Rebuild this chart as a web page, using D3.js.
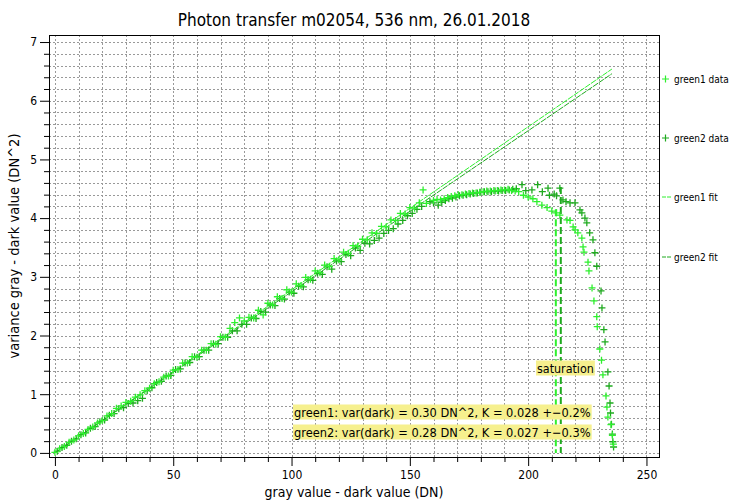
<!DOCTYPE html>
<html>
<head>
<meta charset="utf-8">
<script src="https://cdn.jsdelivr.net/npm/d3@7"></script>
<style>
  body { margin: 0; background: #fff; }
  text { font-family: "DejaVu Sans Condensed", "Liberation Sans", sans-serif; }
</style>
</head>
<body>
<div id="chart"></div>
<script>
// green1 data points (gray value - dark value, variance)
var green1X = [0, 2, 4, 6, 8, 10, 12, 14, 16, 18, 20, 22, 24, 26, 28, 30, 32, 34, 36, 38,
  40, 42, 44, 46, 48, 50, 52, 54, 56, 58, 60, 62, 64, 66, 68, 70, 72, 74, 76, 78,
  80, 82, 84, 86, 88, 90, 92, 94, 96, 98, 100, 102, 104, 106, 108, 110, 112, 114, 116, 118,
  120, 122, 124, 126, 128, 130, 132, 134, 136, 138, 140, 142, 144, 146, 148, 150, 152, 154,
  155.6, 157, 160, 161.5, 163, 164.5, 166, 167.5, 169, 170.5, 172, 173.5, 175, 176.5, 178, 179.5,
  181, 182.5, 184, 185.5, 187, 188.5, 190, 191.5, 193, 194.5, 196, 198, 200, 202, 203.7, 205.8,
  208, 210, 212, 213.4, 216.4, 217.7, 219, 219.8, 221, 222.7, 223.2, 223.6, 225.3, 225.7, 227, 227.8,
  229, 229.2, 230.3, 231, 231.6, 232.9, 233.3, 233.7, 235, 235.6, 236];
var green1Y = [0.01, 0.07, 0.11, 0.18, 0.22, 0.29, 0.33, 0.40, 0.44, 0.51, 0.55, 0.63, 0.67, 0.76, 0.80, 0.86, 0.88, 0.95, 0.99, 1.06,
  1.10, 1.18, 1.21, 1.29, 1.31, 1.41, 1.42, 1.53, 1.53, 1.64, 1.63, 1.75, 1.75, 1.86, 1.85, 1.98, 1.97, 2.12, 2.22, 2.30,
  2.25, 2.31, 2.30, 2.43, 2.35, 2.55, 2.52, 2.66, 2.63, 2.78, 2.74, 2.88, 2.85, 2.99, 2.96, 3.10, 3.07, 3.20, 3.18, 3.31,
  3.29, 3.42, 3.40, 3.53, 3.52, 3.64, 3.63, 3.75, 3.74, 3.86, 3.85, 3.97, 3.96, 4.08, 4.07, 4.18, 4.17, 4.26,
  4.48, 4.25, 4.30, 4.32, 4.31, 4.33, 4.35, 4.37, 4.38, 4.40, 4.40, 4.41, 4.42, 4.43, 4.43, 4.44,
  4.45, 4.46, 4.46, 4.47, 4.47, 4.48, 4.48, 4.49, 4.47, 4.46, 4.45, 4.39, 4.36, 4.33, 4.28, 4.22,
  4.18, 4.12, 4.09, 4.05, 3.97, 3.96, 3.85, 3.80, 3.75, 3.66, 3.51, 3.42, 3.25, 3.10, 2.81, 2.59,
  2.32, 2.15, 1.77, 1.58, 1.33, 0.97, 0.78, 0.61, 0.48, 0.30, 0.15];

// green2 data points
var green2X = [1, 3, 5, 7, 9, 11, 13, 15, 17, 19, 21, 23, 25, 27, 29, 31, 33, 35, 37, 39,
  41, 43, 45, 47, 49, 51, 53, 55, 57, 59, 61, 63, 65, 67, 69, 71, 73, 75, 77, 79,
  81, 83, 85, 87, 89, 91, 93, 95, 97, 99, 101, 103, 105, 107, 109, 111, 113, 115, 117, 119,
  121, 123, 125, 127, 129, 131, 133, 135, 137, 139, 141, 143, 145, 147, 149, 151, 153, 155,
  158.5, 160, 162, 163.5, 165, 166.5, 168, 169.5, 171, 172.5, 174, 175.5, 177, 178.5, 180, 181.5,
  183, 184.5, 186, 187.5, 189, 190.5, 192, 193.5, 195, 197.4, 199, 201.6, 204, 206, 208.4, 209,
  211, 212, 213.4, 214.7, 216, 217.7, 219.8, 221.9, 222.7, 224, 224.8, 226, 227.4, 228.2, 229, 230.8,
  231.2, 232, 232.5, 233.7, 234.2, 234.6, 234.8, 235.2, 235.6, 235.8, 236.1];
var green2Y = [0.03, 0.09, 0.13, 0.20, 0.24, 0.31, 0.34, 0.42, 0.45, 0.53, 0.56, 0.64, 0.67, 0.75, 0.77, 0.84, 0.85, 0.89, 0.93, 1.06,
  1.11, 1.20, 1.22, 1.31, 1.32, 1.42, 1.43, 1.53, 1.54, 1.64, 1.64, 1.75, 1.75, 1.86, 1.86, 1.97, 1.97, 2.08, 2.08, 2.19,
  2.19, 2.30, 2.29, 2.41, 2.40, 2.52, 2.51, 2.63, 2.62, 2.74, 2.72, 2.84, 2.83, 2.95, 2.94, 3.06, 3.04, 3.17, 3.13, 3.27,
  3.26, 3.38, 3.36, 3.49, 3.45, 3.57, 3.56, 3.62, 3.66, 3.74, 3.79, 3.82, 3.90, 3.96, 4.04, 4.08, 4.15, 4.20,
  4.28, 4.26, 4.22, 4.27, 4.30, 4.33, 4.34, 4.36, 4.38, 4.39, 4.40, 4.41, 4.42, 4.43, 4.44, 4.45,
  4.45, 4.45, 4.46, 4.46, 4.47, 4.47, 4.48, 4.49, 4.50, 4.57, 4.47, 4.48, 4.57, 4.45, 4.51, 4.39,
  4.41, 4.38, 4.51, 4.31, 4.28, 4.26, 4.26, 4.14, 4.09, 4.00, 3.92, 3.75, 3.63, 3.41, 3.18, 2.76,
  2.47, 2.10, 1.89, 1.38, 1.14, 0.85, 0.68, 0.49, 0.32, 0.19, 0.10];

// fit lines: [x start, x end] and [y start, y end]
var fitX = [0, 235.4];
var green1FitY = [0, 6.54];
var green2FitY = [0, 6.46];

// saturation markers: x position and top value
var satX = [211.7, 213.8];
var satTop = [4.15, 4.53];

var xTicks = [0, 50, 100, 150, 200, 250];
var yTicks = [0, 1, 2, 3, 4, 5, 6, 7];

var seriesNames = ["green1 data", "green2 data", "green1 fit", "green2 fit"];
var annotations = [
  "green1: var(dark) = 0.30 DN^2, K = 0.028 +\u22120.2%",
  "green2: var(dark) = 0.28 DN^2, K = 0.027 +\u22120.3%"
];

var width = 733, height = 502;
var margin = {left: 49, top: 35, right: 74, bottom: 45};
var c1 = "#2ef02e", c2 = "#1faa1f";

var svg = d3.select("#chart").append("svg")
    .attr("width", width)
    .attr("height", height);

var xScale = d3.scaleLinear()
    .domain([-2.5, 255.3])
    .range([margin.left, width - margin.right]);
var yScale = d3.scaleLinear()
    .domain([-0.07, 7.12])
    .range([height - margin.bottom, margin.top]);

var pl = margin.left, pr = width - margin.right;
var pt = margin.top, pb = height - margin.bottom;

// grid, dotted grey: x every 10, y every 0.2
var gridX = d3.range(0, 251, 10);
var gridY = d3.range(0, 36).map(function(i) { return i * 0.2; });
var grid = svg.append("g").attr("class", "grid");
grid.selectAll("line.gx").data(gridX).enter().append("line")
    .attr("x1", function(d) { return Math.round(xScale(d)) + 0.5; })
    .attr("x2", function(d) { return Math.round(xScale(d)) + 0.5; })
    .attr("y1", pt).attr("y2", pb)
    .attr("stroke", "#999").attr("stroke-dasharray", "2,2");
grid.selectAll("line.gy").data(gridY).enter().append("line")
    .attr("y1", function(d) { return Math.round(yScale(d)) + 0.5; })
    .attr("y2", function(d) { return Math.round(yScale(d)) + 0.5; })
    .attr("x1", pl).attr("x2", pr)
    .attr("stroke", "#999").attr("stroke-dasharray", "2,2");

// axes
var xAxis = d3.axisBottom(xScale).tickValues(xTicks).tickSize(9).tickPadding(4).tickFormat(d3.format("d"));
var xMinor = d3.axisBottom(xScale).tickValues(gridX.filter(function(d) { return d % 50 !== 0; })).tickSize(5).tickFormat("");
var yAxis = d3.axisLeft(yScale).tickValues(yTicks).tickSize(9).tickPadding(3).tickFormat(d3.format("d"));
var yMinor = d3.axisLeft(yScale).tickValues(gridY.filter(function(d, i) { return i % 5 !== 0; })).tickSize(5).tickFormat("");

[[xAxis, "translate(0," + pb + ")"], [xMinor, "translate(0," + pb + ")"],
 [yAxis, "translate(" + pl + ",0)"], [yMinor, "translate(" + pl + ",0)"]].forEach(function(a) {
  var g = svg.append("g").attr("transform", a[1]).call(a[0]);
  g.select(".domain").remove();
  g.selectAll("text").attr("font-size", 12).attr("fill", "#000")
    .style("font-family", "'DejaVu Sans Condensed', 'Liberation Sans', sans-serif");
});

// frame
svg.append("rect")
    .attr("x", pl + 0.5).attr("y", pt + 0.5)
    .attr("width", pr - pl).attr("height", pb - pt)
    .attr("fill", "none").attr("stroke", "#000");

var plot = svg.append("g");

// fit lines
[[green1FitY, c1], [green2FitY, c2]].forEach(function(f) {
  plot.append("line")
    .attr("x1", xScale(fitX[0])).attr("y1", yScale(f[0][0]))
    .attr("x2", xScale(fitX[1])).attr("y2", yScale(f[0][1]))
    .attr("stroke", f[1]).attr("stroke-width", 1)
    .attr("stroke-dasharray", "6,1");
});

// saturation lines
satX.forEach(function(sx, i) {
  plot.append("line")
    .attr("x1", xScale(sx)).attr("x2", xScale(sx))
    .attr("y1", yScale(satTop[i])).attr("y2", yScale(0))
    .attr("stroke", i === 0 ? c1 : c2).attr("stroke-width", 2)
    .attr("stroke-dasharray", "7,3");
});

// data crosses
function _zip(a, b) { return a.map(function(v, i) { return [v, b[i]]; }); }
function crosses(xs, ys, col) {
  var pts = _zip(xs, ys);
  plot.append("g").selectAll("path").data(pts).enter().append("path")
    .attr("d", function(p) {
      var x = xScale(p[0]), y = yScale(p[1]);
      return "M" + (x - 3.5) + "," + y + "H" + (x + 3.5) + "M" + x + "," + (y - 3.5) + "V" + (y + 3.5);
    })
    .attr("stroke", col).attr("stroke-width", 1.3).attr("fill", "none");
}
crosses(green2X, green2Y, c2);
crosses(green1X, green1Y, c1);

// yellow text boxes
function labelBox(txt, x, y, size) {
  var g = svg.append("g");
  var t = g.append("text").attr("x", x).attr("y", y).attr("font-size", size)
    .attr("dominant-baseline", "central").text(txt);
  var bb = t.node().getBBox();
  g.insert("rect", "text")
    .attr("x", bb.x - 1).attr("y", bb.y).attr("width", bb.width + 2).attr("height", bb.height)
    .attr("fill", "#f6f08e");
}
labelBox("saturation", 537, 368, 12.4);
labelBox(annotations[0], 294, 412, 12.7);
labelBox(annotations[1], 294, 432, 12.7);

// title and axis labels
svg.append("text").attr("x", (pl + pr) / 2).attr("y", 26)
    .attr("text-anchor", "middle").attr("font-size", 17)
    .text("Photon transfer m02054, 536 nm, 26.01.2018");
svg.append("text").attr("x", (pl + pr) / 2).attr("y", 497)
    .attr("text-anchor", "middle").attr("font-size", 14)
    .text("gray value - dark value (DN)");
svg.append("text").attr("transform", "translate(19," + ((pt + pb) / 2) + ") rotate(-90)")
    .attr("text-anchor", "middle").attr("font-size", 14.5)
    .text("variance gray - dark value (DN^2)");

// legend on the right
var legY = [79, 138, 197, 257];
var leg = svg.selectAll("g.leg").data(seriesNames).enter().append("g")
    .attr("transform", function(d, i) { return "translate(662," + legY[i] + ")"; });
leg.each(function(d, i) {
  var g = d3.select(this);
  var col = (i % 2 === 0) ? c1 : c2;
  if (i < 2) {
    g.append("path").attr("d", "M0,0H7M3.5,-3.5V3.5").attr("stroke", col).attr("stroke-width", 1.2);
  } else {
    g.append("line").attr("x1", 0).attr("x2", 9).attr("stroke", col).attr("stroke-dasharray", "4,1");
  }
  g.append("text").attr("x", 12).attr("dominant-baseline", "central").attr("font-size", 10).text(d);
});
</script>
</body>
</html>
